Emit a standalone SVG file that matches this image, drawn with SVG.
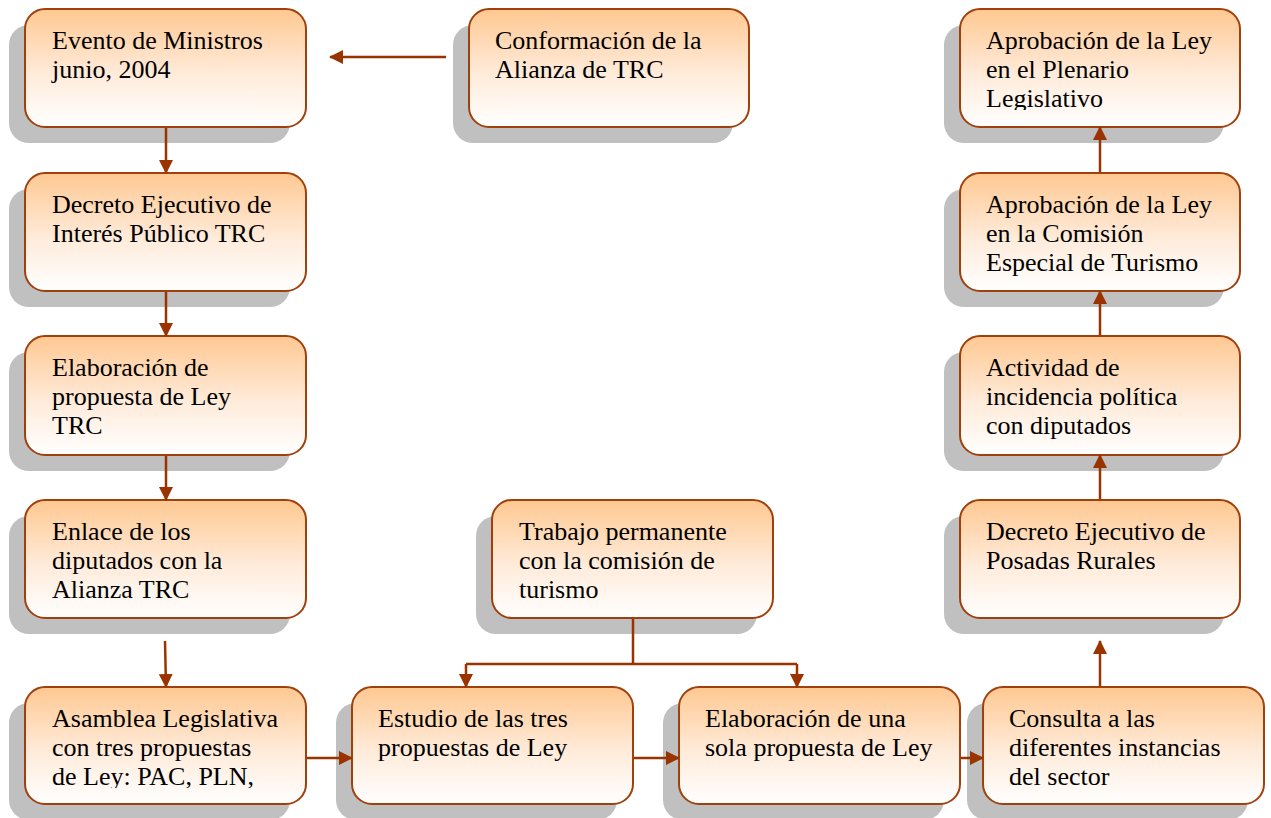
<svg xmlns="http://www.w3.org/2000/svg" width="1271" height="818" viewBox="0 0 1271 818">
<defs>
<linearGradient id="g" x1="0" y1="0" x2="0" y2="1">
<stop offset="0" stop-color="#FFC891"/>
<stop offset="0.55" stop-color="#FFEBDA"/>
<stop offset="1" stop-color="#FFFFFF"/>
</linearGradient>
<marker id="ah" markerUnits="userSpaceOnUse" markerWidth="14" markerHeight="14" viewBox="0 0 14 14" refX="13" refY="7" orient="auto">
<path d="M0,0 L14,7 L0,14 Z" fill="#993300"/>
</marker>
<clipPath id="c1"><rect x="25" y="9" width="281" height="101"/></clipPath>
<clipPath id="c5"><rect x="25" y="687" width="281" height="101"/></clipPath>
<clipPath id="cr1"><rect x="960" y="9" width="281" height="101"/></clipPath>
</defs>
<style>
.sh{fill:#C0C0C0}
.bx{fill:url(#g);stroke:#A0410D;stroke-width:2}
.t{font-family:"Liberation Serif","Times New Roman",serif;font-size:26px;fill:#000}
.cn{stroke:#993300;stroke-width:2.5;fill:none}
</style>

<g id="n1">
<rect class="sh" x="9" y="25" width="281" height="118" rx="20"/>
<rect class="bx" x="25" y="9" width="281" height="118" rx="20"/>
<text class="t" clip-path="url(#c1)"><tspan x="52" y="49">Evento de Ministros</tspan><tspan x="52" y="78">junio, 2004</tspan></text>
</g>
<g id="n2">
<rect class="sh" x="453" y="25" width="280" height="118" rx="20"/>
<rect class="bx" x="469" y="9" width="280" height="118" rx="20"/>
<text class="t"><tspan x="495" y="49">Conformación de la</tspan><tspan x="495" y="78">Alianza de TRC</tspan></text>
</g>
<g id="n3">
<rect class="sh" x="9" y="189" width="281" height="118" rx="20"/>
<rect class="bx" x="25" y="173" width="281" height="118" rx="20"/>
<text class="t"><tspan x="52" y="213">Decreto Ejecutivo de</tspan><tspan x="52" y="242">Interés Público TRC</tspan></text>
</g>
<g id="n4">
<rect class="sh" x="9" y="352" width="281" height="119" rx="20"/>
<rect class="bx" x="25" y="336" width="281" height="119" rx="20"/>
<text class="t"><tspan x="52" y="376">Elaboración de</tspan><tspan x="52" y="405">propuesta de Ley</tspan><tspan x="52" y="434">TRC</tspan></text>
</g>
<g id="n5">
<rect class="sh" x="9" y="516" width="281" height="118" rx="20"/>
<rect class="bx" x="25" y="500" width="281" height="118" rx="20"/>
<text class="t"><tspan x="52" y="540">Enlace de los</tspan><tspan x="52" y="569">diputados con la</tspan><tspan x="52" y="598">Alianza TRC</tspan></text>
</g>
<g id="n6">
<rect class="sh" x="9" y="703" width="281" height="117" rx="20"/>
<rect class="bx" x="25" y="687" width="281" height="117" rx="20"/>
<text class="t" clip-path="url(#c5)"><tspan x="52" y="727">Asamblea Legislativa</tspan><tspan x="52" y="756">con tres propuestas</tspan><tspan x="52" y="785">de Ley: PAC, PLN,</tspan></text>
</g>
<g id="n7">
<rect class="sh" x="336" y="703" width="281" height="117" rx="20"/>
<rect class="bx" x="352" y="687" width="281" height="117" rx="20"/>
<text class="t"><tspan x="378" y="727">Estudio de las tres</tspan><tspan x="378" y="756">propuestas de Ley</tspan></text>
</g>
<g id="n8">
<rect class="sh" x="663" y="703" width="281" height="117" rx="20"/>
<rect class="bx" x="679" y="687" width="281" height="117" rx="20"/>
<text class="t"><tspan x="705" y="727">Elaboración de una</tspan><tspan x="705" y="756">sola propuesta de Ley</tspan></text>
</g>
<g id="n9">
<rect class="sh" x="967" y="703" width="281" height="117" rx="20"/>
<rect class="bx" x="983" y="687" width="281" height="117" rx="20"/>
<text class="t"><tspan x="1009" y="727">Consulta a las</tspan><tspan x="1009" y="756">diferentes instancias</tspan><tspan x="1009" y="785">del sector</tspan></text>
</g>
<g id="n10">
<rect class="sh" x="476" y="516" width="281" height="118" rx="20"/>
<rect class="bx" x="492" y="500" width="281" height="118" rx="20"/>
<text class="t"><tspan x="519" y="540">Trabajo permanente</tspan><tspan x="519" y="569">con la comisión de</tspan><tspan x="519" y="598">turismo</tspan></text>
</g>
<g id="n11">
<rect class="sh" x="944" y="516" width="280" height="118" rx="20"/>
<rect class="bx" x="960" y="500" width="280" height="118" rx="20"/>
<text class="t"><tspan x="986" y="540">Decreto Ejecutivo de</tspan><tspan x="986" y="569">Posadas Rurales</tspan></text>
</g>
<g id="n12">
<rect class="sh" x="944" y="352" width="280" height="119" rx="20"/>
<rect class="bx" x="960" y="336" width="280" height="119" rx="20"/>
<text class="t"><tspan x="986" y="376">Actividad de</tspan><tspan x="986" y="405">incidencia política</tspan><tspan x="986" y="434">con diputados</tspan></text>
</g>
<g id="n13">
<rect class="sh" x="944" y="189" width="280" height="118" rx="20"/>
<rect class="bx" x="960" y="173" width="280" height="118" rx="20"/>
<text class="t"><tspan x="986" y="213">Aprobación de la Ley</tspan><tspan x="986" y="242">en la Comisión</tspan><tspan x="986" y="271">Especial de Turismo</tspan></text>
</g>
<g id="n14">
<rect class="sh" x="944" y="25" width="280" height="118" rx="20"/>
<rect class="bx" x="960" y="9" width="280" height="118" rx="20"/>
<text class="t" clip-path="url(#cr1)"><tspan x="986" y="49">Aprobación de la Ley</tspan><tspan x="986" y="78">en el Plenario</tspan><tspan x="986" y="107">Legislativo</tspan></text>
</g>

<g id="connectors">
<line class="cn" x1="446" y1="57" x2="330" y2="57" marker-end="url(#ah)"/>
<line class="cn" x1="166" y1="128" x2="166" y2="173" marker-end="url(#ah)"/>
<line class="cn" x1="166" y1="292" x2="166" y2="336" marker-end="url(#ah)"/>
<line class="cn" x1="166" y1="456" x2="166" y2="500" marker-end="url(#ah)"/>
<line class="cn" x1="165" y1="641" x2="166" y2="687" marker-end="url(#ah)"/>
<line class="cn" x1="307" y1="758" x2="352" y2="758" marker-end="url(#ah)"/>
<line class="cn" x1="634" y1="758" x2="679" y2="758" marker-end="url(#ah)"/>
<line class="cn" x1="961" y1="758" x2="983" y2="758" marker-end="url(#ah)"/>
<polyline class="cn" points="633,619 633,664"/>
<polyline class="cn" points="466,664 797,664"/>
<line class="cn" x1="466" y1="664" x2="466" y2="687" marker-end="url(#ah)"/>
<line class="cn" x1="797" y1="664" x2="797" y2="687" marker-end="url(#ah)"/>
<line class="cn" x1="1100" y1="686" x2="1100" y2="641" marker-end="url(#ah)"/>
<line class="cn" x1="1100" y1="499" x2="1100" y2="455" marker-end="url(#ah)"/>
<line class="cn" x1="1100" y1="335" x2="1100" y2="291" marker-end="url(#ah)"/>
<line class="cn" x1="1100" y1="172" x2="1100" y2="127" marker-end="url(#ah)"/>
</g>
</svg>
